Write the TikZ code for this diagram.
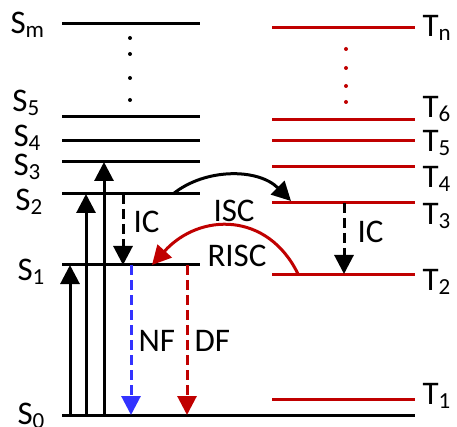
\documentclass[tikz,border=0pt]{standalone}
\usepackage{fontspec}
\setmainfont{Carlito}
\usetikzlibrary{arrows.meta}
\definecolor{rojo}{HTML}{C00000}
\definecolor{azul}{HTML}{3333FF}
\newcommand\subind[1]{\raisebox{-4pt}{\fontsize{23}{25}\selectfont #1}}
\tikzset{
  nivel/.style={line width=3pt},
  punta/.style={-{Triangle[length=19pt,width=19pt]}},
  etiq/.style={anchor=base west, inner sep=0pt, font=\fontsize{33}{36}\selectfont},
  guion/.style={dash pattern=on 10pt off 5pt},
}
\begin{document}
\begin{tikzpicture}[x=1pt, y=-1pt, line width=3pt]
  \useasboundingbox (0,0) rectangle (457,427);
  % los niveles singletes, el fundamental más largo
  \foreach \y in {24,117,141,162,194,265} {
    \draw[nivel] (62,\y) -- (200,\y);
  }
  \draw[nivel] (62,415) -- (415,415);
  % los niveles tripletes
  \foreach \y in {28,120,141,167,203,274,399} {
    \draw[nivel, rojo] (272,\y) -- (415,\y);
  }
  % los puntos entre niveles
  \foreach \y in {38,54,78,100} {
    \fill (130,\y) circle (2);
  }
  \foreach \y in {49,68,86,102} {
    \fill[rojo] (346,\y) circle (2);
  }
  % los nombres de los niveles
  \node[etiq] (sm) at (9,34) {S\subind{m}};
  \node[etiq] (s5) at (11,112) {S\subind{5}};
  \node[etiq] (s4) at (12,147) {S\subind{4}};
  \node[etiq] (s3) at (12,176) {S\subind{3}};
  \node[etiq] (s2) at (14,211) {S\subind{2}};
  \node[etiq] (s1) at (16,280) {S\subind{1}};
  \node[etiq] (s0) at (16,424) {S\subind{0}};
  \node[etiq] (tn) at (421,37) {T\subind{n}};
  \node[etiq] (t6) at (421,118) {T\subind{6}};
  \node[etiq] (t5) at (421,152) {T\subind{5}};
  \node[etiq] (t4) at (421,188) {T\subind{4}};
  \node[etiq] (t3) at (421,225) {T\subind{3}};
  \node[etiq] (t2) at (421,290) {T\subind{2}};
  \node[etiq] (t1) at (421,404) {T\subind{1}};
  % los puntos de las flechas
  \coordinate (ua) at (70,415);  \coordinate (ub) at (70,265);
  \coordinate (va) at (86,415);  \coordinate (vb) at (86,194);
  \coordinate (wa) at (104,415); \coordinate (wb) at (104,162);
  \coordinate (ica) at (123,194); \coordinate (icb) at (123,265);
  \coordinate (nfa) at (131,265); \coordinate (nfb) at (131,415);
  \coordinate (dfa) at (187,265); \coordinate (dfb) at (187,415);
  \coordinate (tca) at (344,203); \coordinate (tcb) at (344,274);
  \coordinate (isa) at (173,194); \coordinate (isb) at (291,201);
  \coordinate (ria) at (298,274); \coordinate (rib) at (152,265);
  % la absorción
  \draw[punta] (ua) -- (ub);
  \draw[punta] (va) -- (vb);
  \draw[punta] (wa) -- (wb);
  % las conversiones internas y la fluorescencia
  \draw[punta, guion] (ica) -- (icb);
  \draw[punta, guion] (tca) -- (tcb);
  \draw[punta, guion, azul] (nfa) -- (nfb);
  \draw[punta, guion, rojo] (dfa) -- (dfb);
  % el cruce entre sistemas y su vuelta
  \draw[punta] (isa) .. controls (205,168) and (258,168) .. (isb);
  \draw[punta, rojo] (ria) .. controls (268,212) and (200,212) .. (rib);
  % los rótulos de las flechas
  \node[etiq] (ic1) at (132,233) {IC};
  \node[etiq] (ic2) at (356,243) {IC};
  \node[etiq] (isc) at (212,222) {ISC};
  \node[etiq] (risc) at (206,266) {RISC};
  \node[etiq] (nf) at (137,351) {NF};
  \node[etiq] (df) at (193,351) {DF};
\end{tikzpicture}
\end{document}
